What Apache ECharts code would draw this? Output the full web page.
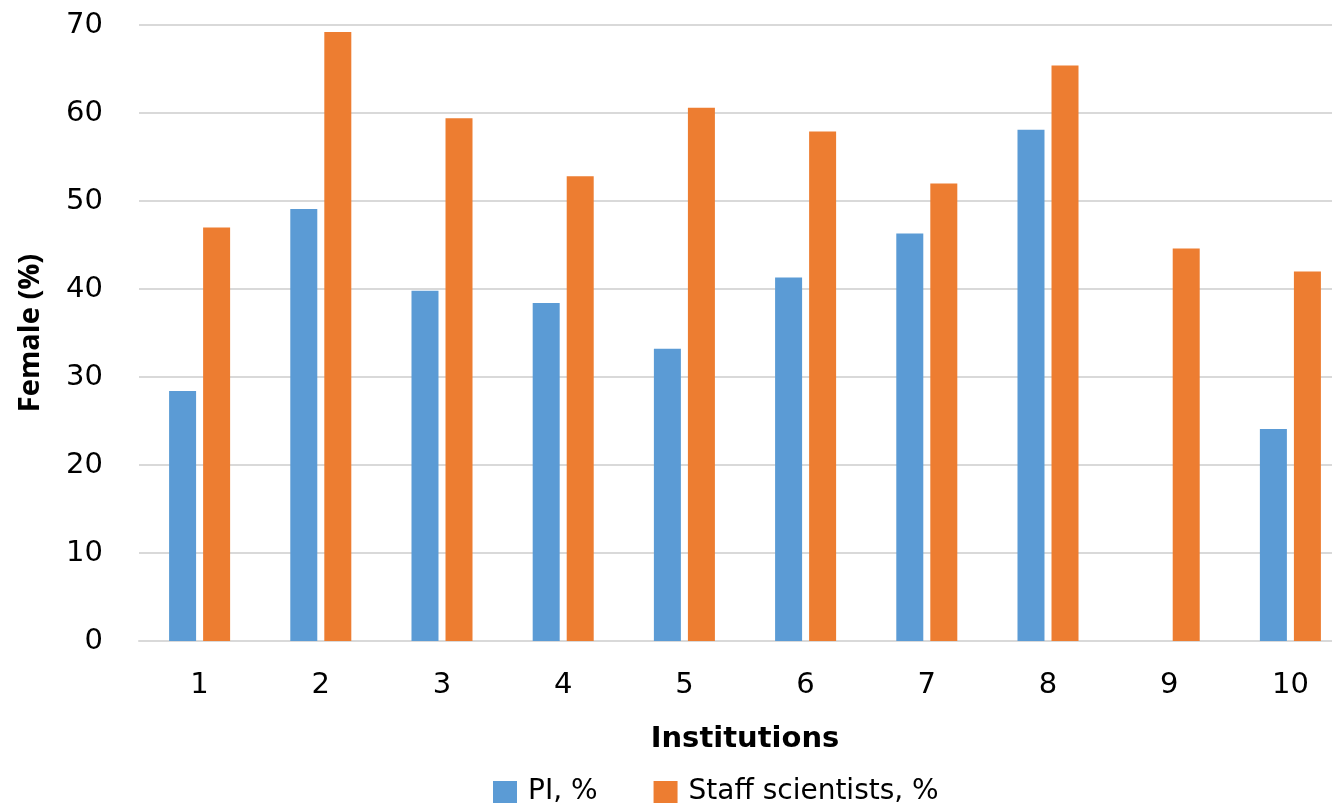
<!DOCTYPE html>
<html>
<head>
<meta charset="utf-8">
<script src="https://cdn.jsdelivr.net/npm/echarts@6/dist/echarts.min.js"></script>
<style>
html,body{margin:0;padding:0;background:#fff;overflow:hidden;}
#chart{width:1332px;height:806px;}
</style>
</head>
<body>
<div id="chart"></div>
<script>
const categories = ['1','2','3','4','5','6','7','8','9','10'];
const piValues = [28.4, 49.1, 39.8, 38.4, 33.2, 41.3, 46.3, 58.1, null, 24.1];
const staffValues = [47.0, 69.2, 59.4, 52.8, 60.6, 57.9, 52.0, 65.4, 44.6, 42.0];
const seriesNames = ['PI, %', 'Staff scientists, %'];

const FONT = 'DejaVu Sans';
const chart = echarts.init(document.getElementById('chart'), null, {renderer:'canvas'});
chart.setOption({
  animation: false,
  backgroundColor: '#ffffff',
  grid: {left: 139, width: 1212, top: 25, bottom: 165, containLabel: false, outerBoundsMode: 'none'},
  legend: {
    data: seriesNames,
    left: 488, top: 773,
    itemWidth: 24, itemHeight: 22, itemGap: 56,
    icon: 'rect',
    textStyle: {fontFamily: FONT, fontSize: 28, color: '#000', padding: [0,0,0,6]}
  },
  xAxis: {
    type: 'category',
    data: categories,
    name: 'Institutions',
    nameLocation: 'middle',
    nameGap: 84,
    nameTextStyle: {fontFamily: FONT, fontSize: 29, fontWeight: 'bold', color: '#000'},
    axisLine: {lineStyle: {color: '#d9d9d9', width: 2}},
    axisTick: {show: false},
    axisLabel: {fontFamily: FONT, fontSize: 29, color: '#000', margin: 30}
  },
  yAxis: {
    type: 'value',
    min: 0, max: 70, interval: 10,
    name: 'Female (%)',
    nameLocation: 'middle',
    nameGap: 94,
    nameTextStyle: {fontFamily: 'Open Sans', fontSize: 29, fontWeight: 'bold', color: '#000'},
    axisLine: {show: false},
    axisTick: {show: false},
    axisLabel: {fontFamily: FONT, fontSize: 29, color: '#000', margin: 36},
    splitLine: {lineStyle: {color: '#d9d9d9', width: 2}}
  },
  series: [
    {name: seriesNames[0], type: 'bar', data: piValues, barWidth: 27, barGap: '26%',
     itemStyle: {color: '#5b9bd5'}},
    {name: seriesNames[1], type: 'bar', data: staffValues, barWidth: 27, barGap: '26%',
     itemStyle: {color: '#ed7d31'}}
  ]
});
</script>
</body>
</html>
